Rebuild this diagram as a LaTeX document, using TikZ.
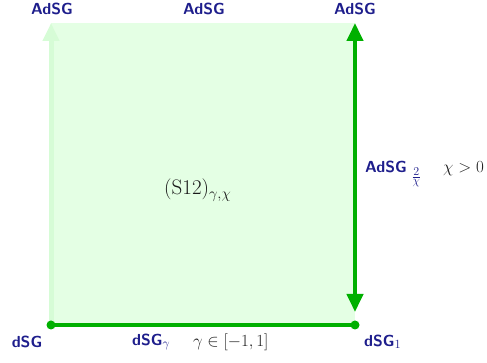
\documentclass[tikz,border=0pt]{standalone}
\usepackage{fix-cm}
\DeclareMathSizes{16}{16}{12.5}{12}
\DeclareMathSizes{17}{17}{12.5}{10.5}
\DeclareMathSizes{21}{21}{15}{12}
\usetikzlibrary{arrows.meta}
\begin{document}
\begin{tikzpicture}[x=1pt,y=1pt,
  lbl/.style={text=navy,font=\fontsize{16}{19}\selectfont\sffamily\bfseries,inner sep=0pt},
  mlbl/.style={text=black!88,font=\fontsize{17}{19}\selectfont,inner sep=0pt},
  garrow/.style={draw=dgreen,line width=4pt},
  ]
\definecolor{navy}{RGB}{30,30,140}
\definecolor{dgreen}{RGB}{0,176,0}
\definecolor{lfill}{RGB}{228,255,228}
\definecolor{pale}{RGB}{214,252,214}
\useasboundingbox (0,0) rectangle (487,363);
\coordinate (bl) at (51,38);
\coordinate (br) at (355,38);
\coordinate (tl) at (51,340);
\coordinate (tr) at (355,340);
\coordinate (trt) at (355,340);
\coordinate (brt) at (355,51);
\fill[lfill] (bl) rectangle (tr);
\draw[draw=pale,line width=5pt,-{Triangle[length=18pt,width=16pt]}] (bl) -- (tl);
\draw[garrow,{Triangle[length=18pt,width=16pt]}-{Triangle[length=18pt,width=16pt]}] (brt) -- (trt);
\draw[garrow] (bl) -- (br);
\fill[dgreen] (bl) circle (4.5pt) (br) circle (4.5pt);
\node[lbl] (a1) at (52,354) {AdSG};
\node[lbl] (a2) at (204,354) {AdSG};
\node[lbl] (a3) at (355,354) {AdSG};
\node[lbl] (d0) at (27,21) {dSG};
\node[lbl,anchor=west] (dg) at (132,21) {dSG$_\gamma$};
\node[mlbl,anchor=west] (gr) at (193,21) {$\gamma\in[-1,1]$};
\node[lbl,anchor=west] (d1) at (364,21) {dSG$_1$};
\node[lbl,anchor=base west] (ax) at (365,190) {AdSG$\;_{\frac{2}{\chi}}$};
\node[mlbl,anchor=base west] (cx) at (443,190) {$\chi>0$};
\node[text=black!90,font=\fontsize{21}{24}\selectfont,inner sep=0pt,anchor=base west] (s12) at (164,168) {(S12)$_{\gamma,\chi}$};
\end{tikzpicture}
\end{document}
